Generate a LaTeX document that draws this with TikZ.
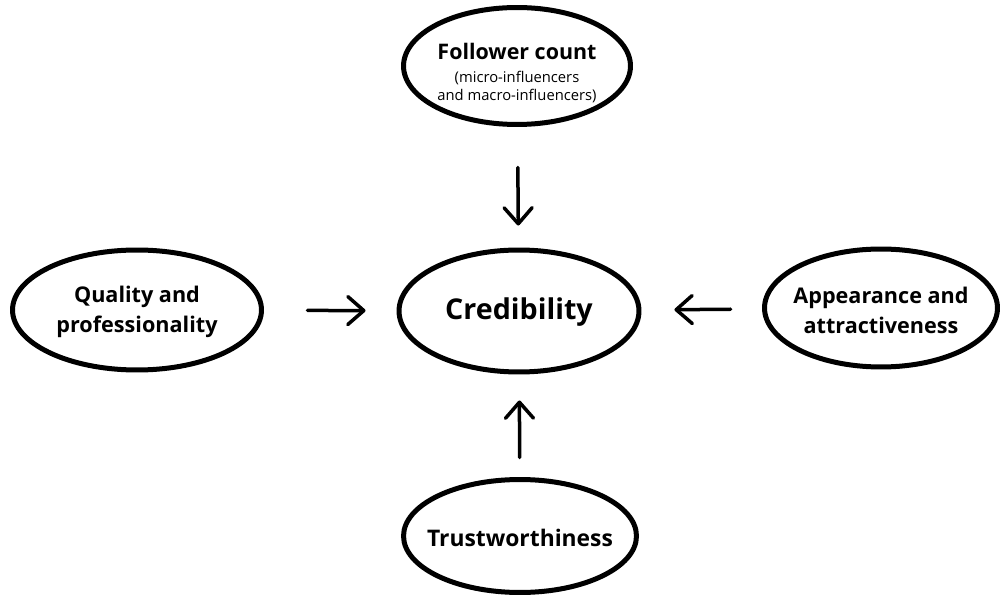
\documentclass[tikz,border=0pt]{standalone}
\usepackage{fontspec}
\setmainfont{Open Sans}
\usetikzlibrary{shapes.geometric,arrows.meta}
\tikzset{
  factor/.style={shape=ellipse, draw=black, line width=0.1cm, inner sep=0pt},
  factortext/.style={align=center, inner sep=0pt, font=\bfseries\fontsize{12.3}{17}\selectfont},
  arr/.style={-{Straight Barb[length=0.32cm,width=0.56cm,round]}, line width=0.07cm, line cap=round}
}
\begin{document}
\begin{tikzpicture}[x=0.02cm,y=-0.02cm]
        \useasboundingbox (0,0) rectangle (1003,597);
        % factors
        \node[factor, minimum width=4.54cm, minimum height=2.34cm,
          label={[factortext, font=\mdseries\fontsize{8.4}{10.2}\selectfont, yshift=-0.14cm]center:{\bfseries\fontsize{12.2}{14}\selectfont Follower count}\\[3.4pt](micro-influencers\\and macro-influencers)}] (fol) at (517,66) {};
        \node[factor, minimum width=4.8cm, minimum height=2.44cm,
          label={[factortext, font=\bfseries\fontsize{16.3}{20}\selectfont, yshift=-0.02cm]center:Credibility}] (cred) at (519,311) {};
        \node[factor, minimum width=4.98cm, minimum height=2.4cm,
          label={[factortext, yshift=-0.04cm]center:Quality and\\professionality}] (qual) at (137,310) {};
        \node[factor, minimum width=4.66cm, minimum height=2.36cm,
          label={[factortext, yshift=-0.04cm]center:Appearance and\\attractiveness}] (app) at (881,308) {};
        \node[factor, minimum width=4.66cm, minimum height=2.26cm,
          label={[factortext, font=\bfseries\fontsize{13}{17}\selectfont, yshift=-0.04cm]center:Trustworthiness}] (trust) at (520,536) {};

        % arrows
        \draw[arr, shorten <=0.81cm, shorten >=0.44cm] (fol) -- (cred);
        \draw[arr, shorten <=0.87cm, shorten >=0.62cm] (qual) -- (cred);
        \draw[arr, shorten <=0.63cm, shorten >=0.66cm] (app) -- (cred);
        \draw[arr, shorten <=0.39cm, shorten >=0.52cm] (trust) -- (cred);
    \end{tikzpicture}
\end{document}
